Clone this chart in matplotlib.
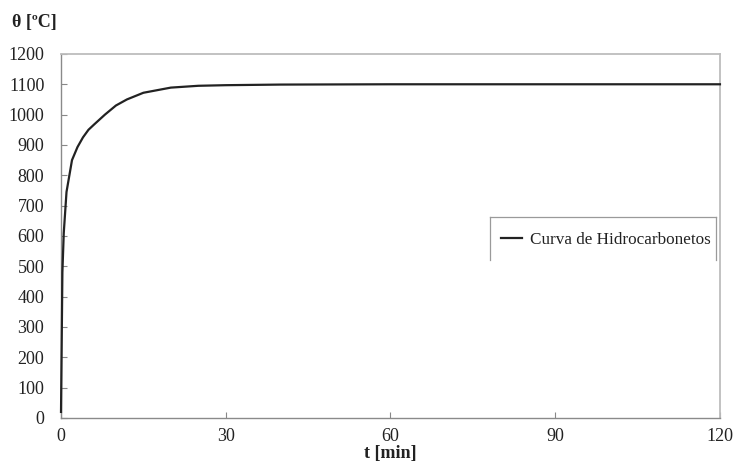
import matplotlib
matplotlib.use("Agg")
import matplotlib.pyplot as plt
from matplotlib.lines import Line2D

# Hydrocarbon fire curve: gas temperature versus time
t_min = [0, 0.25, 0.5, 1, 2, 3, 4, 5, 6, 8, 10, 12, 15, 20, 25, 30, 40, 60, 90, 120]
theta_c = [20, 480, 610, 745, 850, 893, 925, 950, 967, 1000, 1030, 1050, 1072,
           1089, 1095, 1097, 1099, 1100, 1100, 1100]

x_ticks = [0, 30, 60, 90, 120]
y_ticks = list(range(0, 1201, 100))
series_label = "Curva de Hidrocarbonetos"

plt.rcParams["font.family"] = ["Liberation Serif", "DejaVu Serif"]

fig = plt.figure(figsize=(7.36, 4.61), dpi=100)
ax = fig.add_axes([0.0829, 0.0933, 0.8953, 0.7897])

ax.plot(t_min, theta_c, color="#222222", lw=1.6, label=series_label,
        solid_joinstyle="round", clip_on=False, zorder=3)

ax.set_xlim(0, 120)
ax.set_ylim(0, 1200)
ax.set_xticks(x_ticks)
ax.set_yticks(y_ticks)
ax.tick_params(direction="in", length=4, width=0.8, color="#888888",
               labelsize=13, labelcolor="#222222")
ax.tick_params(axis="y", pad=12)
ax.tick_params(axis="x", pad=7)

for side in ("left", "bottom"):
    ax.spines[side].set_color("#8a8a8a")
    ax.spines[side].set_linewidth(1.0)
for side in ("top", "right"):
    ax.spines[side].set_color("#bdbdbd")
    ax.spines[side].set_linewidth(1.3)

# legend with a three-sided frame
ax.legend(loc="center left", bbox_to_anchor=(0.645, 0.49), frameon=False,
          fontsize=12.3, handlelength=1.2, handletextpad=0.45,
          labelcolor="#222222")
frame_color = "#9a9a9a"
bx0, bx1, by0, by1 = 0.651, 0.994, 0.434, 0.552
for xs, ys in (([bx0, bx0], [by0, by1]), ([bx0, bx1], [by1, by1]),
               ([bx1, bx1], [by1, by0])):
    ax.add_line(Line2D(xs, ys, transform=ax.transAxes, color=frame_color,
                       lw=0.9, clip_on=False))

fig.text(0.016, 0.952, "θ [ºC]", fontsize=13, fontweight="bold",
         ha="left", va="center", color="#222222")
fig.text(0.53, 0.017, "t [min]", fontsize=13, fontweight="bold",
         ha="center", va="center", color="#222222")

fig.savefig("out.png", dpi=100, facecolor="white")
